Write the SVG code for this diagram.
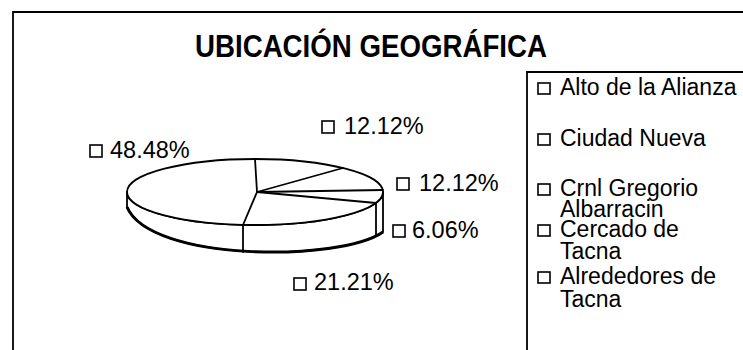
<svg xmlns="http://www.w3.org/2000/svg" width="743" height="350" viewBox="0 0 743 350">
<style>
.t{font-family:"Liberation Sans",Arial,sans-serif;font-size:23.5px;fill:#000}
.lg{font-family:"Liberation Sans",Arial,sans-serif;font-size:23px;fill:#000}
.sq{fill:#fff;stroke:#000;stroke-width:1.6}
.ln{fill:none;stroke:#000;stroke-width:1.8;stroke-linecap:round;stroke-linejoin:round}
.fr{fill:none;stroke:#000;stroke-width:1.8}
</style>
<rect width="743" height="350" fill="#fff"/>
<g id="frame">
<path class="fr" d="M13,350 V12 H743"/>
</g>
<g id="title">
<text x="195" y="57" font-family="Liberation Sans,Arial,sans-serif" font-weight="bold" font-size="32" textLength="352" lengthAdjust="spacingAndGlyphs">UBICACIÓN GEOGRÁFICA</text>
</g>
<g id="pie">
<path d="M127,192 L127,207 C150,262 340,262 383,232 L383,192 A128,33 0 0 1 127,192 Z" fill="#fff" stroke="#000" stroke-width="1.8" stroke-linejoin="round"/>
<path d="M127,207 C150,262 340,262 383,232" fill="none" stroke="#000" stroke-width="3"/>
<ellipse cx="255" cy="192" rx="128" ry="33" fill="#fff" stroke="#000" stroke-width="1.8"/>
<g id="connectors">
<path class="ln" d="M255,159 L257,192 L243,225"/>
<path class="ln" d="M257,192 L343,168"/>
<path class="ln" d="M257,192 L383,190"/>
<path class="ln" d="M257,192 L376,203"/>
<path class="ln" d="M376,203 V236"/>
<path class="ln" d="M243,225 V252"/>
</g>
</g>
<g id="labels">
<g id="lbl-48"><rect class="sq" x="90" y="145" width="12" height="12"/><text class="t" x="110" y="158">48.48%</text></g>
<g id="lbl-12a"><rect class="sq" x="322" y="121" width="12" height="12"/><text class="t" x="344" y="134">12.12%</text></g>
<g id="lbl-12b"><rect class="sq" x="397" y="178" width="12" height="12"/><text class="t" x="419" y="191">12.12%</text></g>
<g id="lbl-6"><rect class="sq" x="393" y="225" width="12" height="12"/><text class="t" x="412" y="238">6.06%</text></g>
<g id="lbl-21"><rect class="sq" x="294" y="278" width="12" height="12"/><text class="t" x="314" y="290">21.21%</text></g>
</g>
<g id="legend">
<path class="fr" d="M527,350 V72 H743"/>
<g id="leg-alto"><rect class="sq" x="538" y="83" width="12" height="11"/><text class="lg" x="560" y="95">Alto de la Alianza</text></g>
<g id="leg-ciudad"><rect class="sq" x="538" y="134" width="12" height="11"/><text class="lg" x="560" y="146">Ciudad Nueva</text></g>
<g id="leg-crnl"><rect class="sq" x="538" y="184" width="12" height="11"/><text class="lg" x="560" y="196">Crnl Gregorio</text><text class="lg" x="560" y="217">Albarracin</text></g>
<g id="leg-cercado"><rect class="sq" x="538" y="225" width="12" height="11"/><text class="lg" x="560" y="237">Cercado de</text><text class="lg" x="560" y="259">Tacna</text></g>
<g id="leg-alrededores"><rect class="sq" x="538" y="272" width="12" height="11"/><text class="lg" x="560" y="284">Alrededores de</text><text class="lg" x="560" y="307">Tacna</text></g>
</g>
</svg>
